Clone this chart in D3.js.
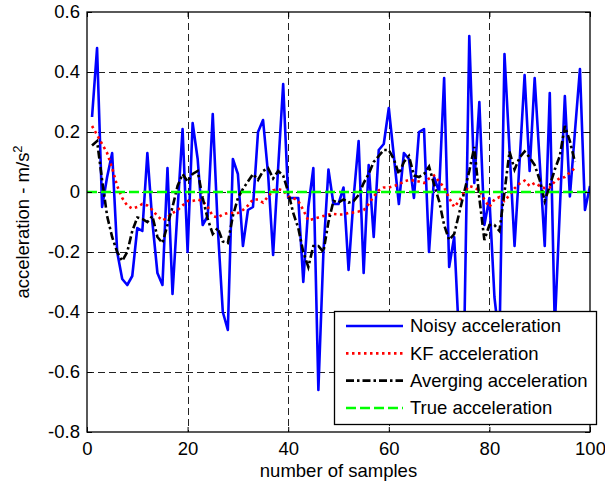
<!DOCTYPE html>
<html>
<head>
<meta charset="utf-8">
<script src="https://cdn.jsdelivr.net/npm/d3@7"></script>
<style>
  body { margin: 0; background: #fff; }
  svg text { font-family: "Liberation Sans", Arial, sans-serif; }
</style>
</head>
<body>
<svg id="chart" width="605" height="486"></svg>
<script>
// values, sample n = index + 1
var noisyAccel = [
  0.25, 0.48, -0.05, 0.05, 0.13, -0.2, -0.29, -0.31, -0.28, -0.12,
  -0.13, 0.13, -0.1, -0.27, -0.31, 0.08, -0.34, -0.06, 0.21, -0.2,
  0.23, 0.11, -0.11, -0.08, 0.26, -0.12, -0.4, -0.46, 0.11, 0.06,
  -0.18, -0.06, -0.05, 0.2, 0.24, 0.06, -0.21, 0.08, 0.36, -0.02,
  -0.02, -0.02, -0.3, -0.05, 0.08, -0.66, -0.2, 0.075, -0.04, -0.04,
  0.015, -0.26, -0.02, 0.17, -0.27, 0.09, -0.15, 0.14, 0.16, 0.28,
  0.12, -0.04, 0.13, 0.11, -0.02, 0.2, 0.21, -0.2, 0.05, 0.0,
  0.38, -0.25, -0.15, -0.5, -0.48, 0.52, 0.03, 0.3, -0.11, -0.02,
  -0.35, -0.5, 0.46, 0.14, -0.18, 0.1, 0.39, 0.07, 0.38, 0.1,
  -0.18, 0.33, -0.45, -0.06, 0.32, -0.015, 0.2, 0.41, -0.06, 0.02
];

var kfAccel = [
  0.22, 0.19, 0.16, 0.13, 0.08, 0.02, -0.02, -0.045, -0.055, -0.05,
  -0.04, -0.045, -0.06, -0.08, -0.095, -0.085, -0.07, -0.06, -0.045, -0.03,
  -0.03, -0.025, -0.03, -0.05, -0.08, -0.085, -0.075, -0.07, -0.07, -0.07,
  -0.06, -0.045, -0.025, -0.025, -0.035, -0.015, 0.005, 0.01, 0.005, -0.015,
  -0.02, -0.03, -0.06, -0.095, -0.09, -0.085, -0.08, -0.075, -0.073, -0.075,
  -0.075, -0.07, -0.068, -0.065, -0.06, -0.04, -0.015, 0.005, 0.015, 0.015,
  0.02, 0.025, 0.035, 0.04, 0.038, 0.035, 0.03, 0.045, 0.055, 0.035,
  0.015, -0.02, -0.05, -0.03, 0.0, 0.02, 0.015, 0.005, -0.025, -0.05,
  -0.025, -0.017, -0.03, -0.01, 0.012, 0.028, 0.038, 0.02, 0.03, 0.02,
  0.013, 0.015, 0.035, 0.046, 0.05, 0.065, 0.08
];

var avgAccel = [
  0.155, 0.17, 0.04, -0.08, -0.15, -0.2, -0.23, -0.2, -0.13, -0.085,
  -0.09, -0.1, -0.08, -0.15, -0.17, -0.11, -0.05, 0.02, 0.06, 0.035,
  0.06, 0.07, -0.02, -0.09, -0.14, -0.12, -0.165, -0.17, -0.08, -0.02,
  0.01, 0.035, 0.06, 0.04, 0.07, 0.08, 0.045, 0.07, 0.055, 0.0,
  -0.07, -0.12, -0.2, -0.25, -0.18, -0.18, -0.2, -0.1, -0.03, -0.035,
  -0.025, -0.035, -0.03, -0.01, 0.03, 0.06, 0.1, 0.12, 0.14, 0.14,
  0.11, 0.06, 0.1, 0.12, 0.055, 0.05, 0.06, 0.085, 0.025, -0.03,
  -0.11, -0.16, -0.14, -0.07, 0.0, 0.07, 0.15, -0.02, -0.16, -0.11,
  -0.11, -0.13, 0.0, 0.135, 0.075, 0.115, 0.135, 0.115, 0.09, 0.04,
  -0.03, 0.02, 0.075, 0.12, 0.22, 0.17, 0.1
];

var trueSamples = [0, 100];
var trueAccel = [0, 0];

var xTicks = [0, 20, 40, 60, 80, 100];
var yTicks = [-0.8, -0.6, -0.4, -0.2, 0, 0.2, 0.4, 0.6];

var legendNames = ["Noisy acceleration", "KF acceleration", "Averging acceleration", "True acceleration"];

(function() {
  // plot box (window.top is read-only, so keep these local)
  var pLeft = 87, pRight = 590, pTop = 12, pBottom = 432;
  var fontSize = 18.5;

  var svg = d3.select("#chart");

  var x = d3.scaleLinear().domain([0, 100]).range([pLeft, pRight]);
  var y = d3.scaleLinear().domain([-0.8, 0.6]).range([pBottom, pTop]);

  svg.append("rect")
    .attr("x", pLeft).attr("y", pTop)
    .attr("width", pRight - pLeft).attr("height", pBottom - pTop)
    .attr("fill", "#fff");

  // grid
  var grid = svg.append("g")
    .attr("stroke", "#222")
    .attr("stroke-width", 1)
    .attr("stroke-dasharray", "7,4");

  grid.selectAll(".gx")
    .data(xTicks.slice(1, -1))
    .enter().append("line")
    .attr("x1", function(d) { return Math.round(x(d)) + 0.5; })
    .attr("x2", function(d) { return Math.round(x(d)) + 0.5; })
    .attr("y1", pTop).attr("y2", pBottom);

  grid.selectAll(".gy")
    .data(yTicks.slice(1, -1))
    .enter().append("line")
    .attr("y1", function(d) { return Math.round(y(d)) + 0.5; })
    .attr("y2", function(d) { return Math.round(y(d)) + 0.5; })
    .attr("x1", pLeft).attr("x2", pRight);

  svg.append("clipPath").attr("id", "plotClip")
    .append("rect")
    .attr("x", pLeft).attr("y", pTop)
    .attr("width", pRight - pLeft).attr("height", pBottom - pTop);

  var lines = svg.append("g").attr("clip-path", "url(#plotClip)");

  var line = d3.line()
    .x(function(d, i) { return x(i + 1); })
    .y(function(d) { return y(d); });

  lines.append("path")
    .datum(noisyAccel)
    .attr("d", line)
    .attr("fill", "none")
    .attr("stroke", "#0000ff")
    .attr("stroke-width", 2.6)
    .attr("stroke-linejoin", "round");

  lines.append("path")
    .datum(kfAccel)
    .attr("d", line)
    .attr("fill", "none")
    .attr("stroke", "#ff0000")
    .attr("stroke-width", 2.6)
    .attr("stroke-dasharray", "2.5,3.5");

  lines.append("path")
    .datum(avgAccel)
    .attr("d", line)
    .attr("fill", "none")
    .attr("stroke", "#000")
    .attr("stroke-width", 2.6)
    .attr("stroke-dasharray", "8,3,2.5,3");

  lines.append("path")
    .datum(trueAccel)
    .attr("d", d3.line()
      .x(function(d, i) { return x(trueSamples[i]); })
      .y(function(d) { return y(d); }))
    .attr("fill", "none")
    .attr("stroke", "#00ff00")
    .attr("stroke-width", 2.6)
    .attr("stroke-dasharray", "10,4");

  // axes with inward ticks
  function fmtY(d) { return d === 0 ? "0" : d.toFixed(1); }

  var xAxis = svg.append("g")
    .attr("transform", "translate(0," + pBottom + ")")
    .call(d3.axisBottom(x).tickValues(xTicks).tickSize(-5).tickPadding(10).tickFormat(d3.format("d")));
  var xAxisTop = svg.append("g")
    .attr("transform", "translate(0," + pTop + ")")
    .call(d3.axisTop(x).tickValues(xTicks).tickSize(-5).tickFormat(""));
  var yAxis = svg.append("g")
    .attr("transform", "translate(" + pLeft + ",0)")
    .call(d3.axisLeft(y).tickValues(yTicks).tickSize(-5).tickPadding(7).tickFormat(fmtY));
  var yAxisRight = svg.append("g")
    .attr("transform", "translate(" + pRight + ",0)")
    .call(d3.axisRight(y).tickValues(yTicks).tickSize(-5).tickFormat(""));

  [xAxis, xAxisTop, yAxis, yAxisRight].forEach(function(a) {
    a.select(".domain").remove();
    a.selectAll(".tick line").attr("stroke", "#000");
    a.selectAll("text").attr("font-size", fontSize).attr("fill", "#000")
      .style("font-family", "'Liberation Sans', Arial, sans-serif");
  });

  svg.append("rect")
    .attr("x", pLeft).attr("y", pTop)
    .attr("width", pRight - pLeft).attr("height", pBottom - pTop)
    .attr("fill", "none")
    .attr("stroke", "#000")
    .attr("stroke-width", 1.3);

  // axis titles
  svg.append("text")
    .attr("x", (pLeft + pRight) / 2)
    .attr("y", 477)
    .attr("text-anchor", "middle")
    .attr("font-size", fontSize)
    .text("number of samples");

  var ylab = svg.append("text")
    .attr("transform", "translate(29," + ((pTop + pBottom) / 2) + ") rotate(-90)")
    .attr("text-anchor", "middle")
    .attr("font-size", fontSize);
  ylab.append("tspan").text("acceleration - m/s");
  ylab.append("tspan").attr("font-size", 13).attr("dy", -7).text("2");

  // legend
  var legend = svg.append("g");
  legend.append("rect")
    .attr("x", 334.5).attr("y", 311.5)
    .attr("width", 262).attr("height", 113)
    .attr("fill", "#fff")
    .attr("stroke", "#000")
    .attr("stroke-width", 1.3);

  var legendStyles = [
    { color: "#0000ff", dash: null },
    { color: "#ff0000", dash: "2.5,3.5" },
    { color: "#000", dash: "8,3,2.5,3" },
    { color: "#00ff00", dash: "10,4" }
  ];

  var ly = d3.scalePoint().domain(legendNames).range([326, 408]);

  var rows = legend.selectAll(".row")
    .data(legendNames)
    .enter().append("g")
    .attr("transform", function(d) { return "translate(0," + ly(d) + ")"; });

  rows.append("line")
    .attr("x1", 346).attr("x2", 403)
    .attr("stroke", function(d, i) { return legendStyles[i].color; })
    .attr("stroke-width", 2.6)
    .attr("stroke-dasharray", function(d, i) { return legendStyles[i].dash; });

  rows.append("text")
    .attr("x", 410)
    .attr("dy", "0.35em")
    .attr("font-size", fontSize)
    .text(function(d) { return d; });
})();
</script>
</body>
</html>
